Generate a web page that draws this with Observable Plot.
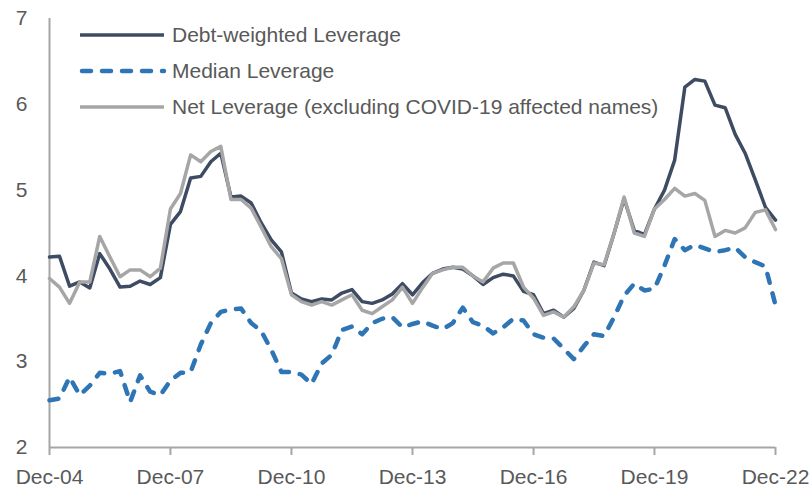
<!DOCTYPE html>
<html>
<head>
<meta charset="utf-8">
<script src="https://cdn.jsdelivr.net/npm/d3@7"></script>
<script src="https://cdn.jsdelivr.net/npm/@observablehq/plot@0.6"></script>
<style>
  body { margin: 0; background: #fff; }
  #wrap { position: relative; width: 812px; height: 490px; font-family: "Liberation Sans", Arial, sans-serif; }
  #legend { position: absolute; left: 80px; top: 17px; }
  .row { display: flex; align-items: center; height: 36px; }
  .row svg { width: 84px; height: 10px; margin-right: 8px; overflow: visible; }
  .row span { font-size: 21px; color: #595959; white-space: nowrap; }
</style>
</head>
<body>
<div id="wrap"><div id="legend"></div></div>
<script>
// ---- data (quarterly, Dec-04 .. Dec-22) ----
const seriesNames = [
  "Debt-weighted Leverage",
  "Median Leverage",
  "Net Leverage (excluding COVID-19 affected names)"
];
const debtWeighted = [
  4.22,4.23,3.88,3.93,3.86,4.26,4.08,3.87,3.88,3.94,3.90,3.98,
  4.60,4.75,5.14,5.16,5.33,5.43,4.92,4.93,4.85,4.62,4.42,4.28,
  3.80,3.73,3.70,3.73,3.72,3.80,3.84,3.70,3.68,3.72,3.79,3.91,
  3.78,3.92,4.03,4.08,4.10,4.08,4.00,3.90,3.98,4.02,4.00,3.82,
  3.78,3.56,3.60,3.52,3.62,3.83,4.16,4.12,4.50,4.90,4.53,4.48,
  4.78,5.00,5.35,6.20,6.29,6.27,5.99,5.96,5.65,5.43,5.12,4.80,4.65
];
const medianLev = [
  2.55,2.57,2.82,2.61,2.72,2.87,2.86,2.89,2.53,2.84,2.65,2.61,
  2.78,2.87,2.88,3.20,3.45,3.58,3.61,3.62,3.45,3.36,3.14,2.88,
  2.88,2.85,2.74,2.98,3.08,3.37,3.41,3.32,3.45,3.50,3.52,3.40,
  3.44,3.47,3.42,3.38,3.45,3.63,3.46,3.42,3.33,3.40,3.50,3.48,
  3.32,3.28,3.27,3.15,3.03,3.18,3.32,3.30,3.52,3.77,3.91,3.83,
  3.85,4.12,4.43,4.30,4.36,4.32,4.28,4.30,4.33,4.22,4.16,4.11,3.66
];
const netLev = [
  3.97,3.87,3.68,3.93,3.93,4.46,4.22,3.99,4.07,4.07,3.99,4.09,
  4.78,4.96,5.41,5.33,5.45,5.51,4.89,4.89,4.79,4.57,4.34,4.20,
  3.78,3.70,3.66,3.70,3.66,3.72,3.78,3.60,3.56,3.64,3.72,3.87,
  3.68,3.86,4.03,4.07,4.10,4.10,4.00,3.93,4.09,4.15,4.15,3.87,
  3.74,3.54,3.58,3.52,3.64,3.83,4.15,4.13,4.50,4.92,4.50,4.46,
  4.78,4.89,5.02,4.93,4.96,4.88,4.46,4.53,4.50,4.56,4.74,4.77,4.54
];
const yTicks = [2,3,4,5,6,7];
const yTickLabels = ["2","3","4","5","6","7"];
const xTickLabels = ["Dec-04","Dec-07","Dec-10","Dec-13","Dec-16","Dec-19","Dec-22"];

// ---- build table ----
const start = new Date(Date.UTC(2004, 11, 1));
const dates = debtWeighted.map((_, i) => d3.utcMonth.offset(start, 3 * i));
const allSeries = [debtWeighted, medianLev, netLev];
const rows = [];
allSeries.forEach((vals, k) => vals.forEach((v, i) => rows.push({date: dates[i], value: v, series: seriesNames[k]})));
const xTicks = xTickLabels.map((_, j) => dates[j * 12]);

const colors = ["#3E4C63", "#2E75B6", "#A6A6A6"];
const axisColor = "#A6A6A6";
const textColor = "#595959";

const chart = Plot.plot({
  width: 812,
  height: 490,
  marginLeft: 49,
  marginRight: 37,
  marginTop: 18,
  marginBottom: 43,
  style: {fontFamily: '"Liberation Sans", Arial, sans-serif', fontSize: "21px", color: textColor, background: "#fff", overflow: "visible"},
  x: {type: "utc", domain: [dates[0], dates[dates.length - 1]]},
  y: {domain: [2, 7]},
  marks: [
    Plot.axisY({ticks: yTicks, tickFormat: (d, i) => yTickLabels[i], tickSize: 0, tickPadding: 22, fontSize: 21, fill: textColor, label: null}),
    Plot.axisX({ticks: xTicks, tickFormat: (d, i) => xTickLabels[i], tickSize: 8, tickPadding: 14, stroke: axisColor, strokeWidth: 2, fontSize: 21, fill: textColor, label: null}),
    Plot.ruleX([dates[0]], {stroke: axisColor, strokeWidth: 2}),
    Plot.ruleY([2], {stroke: axisColor, strokeWidth: 2}),
    Plot.line(rows.filter(d => d.series === seriesNames[0]), {x: "date", y: "value", stroke: colors[0], strokeWidth: 3.5, strokeLinejoin: "round"}),
    Plot.line(rows.filter(d => d.series === seriesNames[1]), {x: "date", y: "value", stroke: colors[1], strokeWidth: 4.5, strokeDasharray: "9,11", strokeLinecap: "round", strokeLinejoin: "round"}),
    Plot.line(rows.filter(d => d.series === seriesNames[2]), {x: "date", y: "value", stroke: colors[2], strokeWidth: 3.5, strokeLinejoin: "round"})
  ]
});
const wrap = document.getElementById("wrap");
wrap.insertBefore(chart, wrap.firstChild);

// ---- legend ----
const legend = document.getElementById("legend");
seriesNames.forEach((name, k) => {
  const row = document.createElement("div");
  row.className = "row";
  const dash = k === 1 ? 'stroke-dasharray="9,11" stroke-linecap="round"' : '';
  const sw = k === 1 ? 4.5 : 3.5;
  row.innerHTML = `<svg viewBox="0 0 84 10"><line x1="${k===1?2:0}" y1="5" x2="84" y2="5" stroke="${colors[k]}" stroke-width="${sw}" ${dash}/></svg><span>${name}</span>`;
  legend.appendChild(row);
});
</script>
</body>
</html>
